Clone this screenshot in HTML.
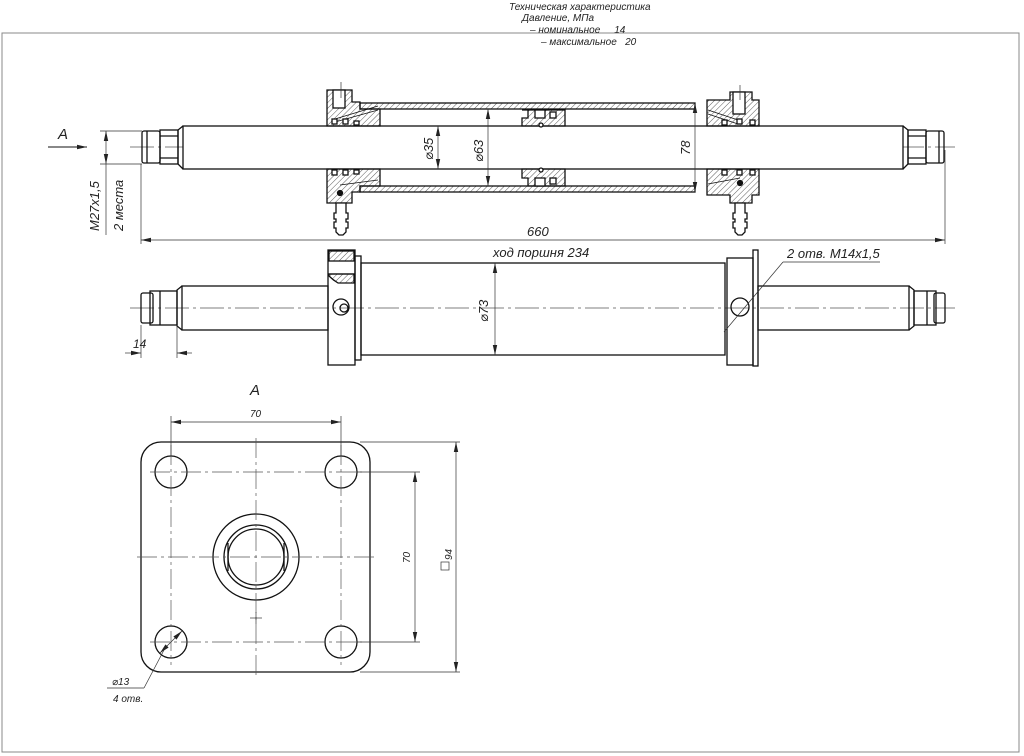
<!DOCTYPE html>
<html><head><meta charset="utf-8"><style>
html,body{margin:0;padding:0;background:#fff;}
svg{display:block;}
text{font-family:"Liberation Sans","DejaVu Sans",sans-serif;font-style:italic;fill:#222;}
</style></head><body>
<svg width="1024" height="756" viewBox="0 0 1024 756" xmlns="http://www.w3.org/2000/svg">
<defs>
<pattern id="h" width="4" height="4" patternUnits="userSpaceOnUse" patternTransform="rotate(45)"><line x1="0" y1="0" x2="0" y2="4" stroke="#333" stroke-width="0.8"/></pattern>
<marker id="a" markerWidth="10" markerHeight="6" refX="10" refY="3" orient="auto-start-reverse" markerUnits="userSpaceOnUse"><path d="M0,0.8 L10,3 L0,5.2z" fill="#222"/></marker>
</defs>
<rect width="1024" height="756" fill="#fff"/>
<!-- frame -->
<rect x="2" y="33" width="1017" height="719" fill="none" stroke="#888" stroke-width="1"/>
<!-- title -->
<g font-size="10">
<text x="509" y="10">Техническая характеристика</text>
<text x="522" y="21">Давление, МПа</text>
<text x="530" y="33">– номинальное&#160;&#160;&#160;&#160;&#160;14</text>
<text x="541" y="45">– максимальное&#160;&#160;&#160;20</text>
</g>

<!-- ========== TOP VIEW (section) ========== -->
<g stroke="#111" fill="none" stroke-width="1.3">
<!-- centerline -->
<line x1="130" y1="147" x2="955" y2="147" stroke="#555" stroke-width="0.7" stroke-dasharray="24,4,3,4"/>
<!-- rod -->
<rect x="183" y="126" width="720" height="43" fill="#fff"/>
<!-- left end -->
<path d="M183,126 L178,130 L178,164 L183,169"/>
<rect x="160" y="130" width="18" height="34"/>
<line x1="160" y1="136" x2="178" y2="136"/><line x1="160" y1="158" x2="178" y2="158"/>
<rect x="142" y="131" width="18" height="32" rx="2"/>
<line x1="147" y1="131" x2="147" y2="163"/>
<!-- right end -->
<path d="M903,126 L908,130 L908,164 L903,169"/>
<rect x="908" y="130" width="18" height="34"/>
<line x1="908" y1="136" x2="926" y2="136"/><line x1="908" y1="158" x2="926" y2="158"/>
<rect x="926" y="131" width="18" height="32" rx="2"/>
<line x1="939" y1="131" x2="939" y2="163"/>
<!-- tube -->
<rect x="360" y="103" width="335" height="6" fill="url(#h)"/>
<rect x="360" y="186" width="335" height="6" fill="url(#h)"/>
<!-- left gland top -->
<path d="M327,90 L352,90 L352,102 L360,102 L360,109 L380,109 L380,126 L327,126 Z" fill="url(#h)"/>
<rect x="333" y="90" width="12" height="18" fill="#fff"/>
<line x1="335" y1="119" x2="378" y2="106" stroke-width="0.8"/>
<line x1="335" y1="122" x2="378" y2="110" stroke-width="0.8"/>
<rect x="332" y="119" width="5" height="5" fill="#fff"/><rect x="343" y="119" width="5" height="5" fill="#fff"/><rect x="354" y="121" width="5" height="4" fill="#fff"/>
<!-- left gland bottom -->
<path d="M327,169 L380,169 L380,186 L360,186 L360,192 L352,192 L352,203 L327,203 Z" fill="url(#h)"/>
<rect x="332" y="170" width="5" height="5" fill="#fff"/><rect x="343" y="170" width="5" height="5" fill="#fff"/><rect x="354" y="170" width="5" height="4" fill="#fff"/>
<line x1="340" y1="185" x2="378" y2="180" stroke-width="0.8"/>
<circle cx="340" cy="193" r="2.5" fill="#111"/>
<!-- left fitting -->
<path d="M336,203 h10 v10 h2 v6 h-2 v3 h2 v6 h-2 v4 l-3,3 h-4 l-3,-3 v-4 h-2 v-6 h2 v-3 h-2 v-6 h2 z" fill="#fff"/>
<!-- right gland top -->
<path d="M707,109 L707,100 L730,100 L730,92 L752,92 L752,100 L759,100 L759,126 L707,126 Z" fill="url(#h)"/>
<rect x="733" y="92" width="12" height="22" fill="#fff"/>
<line x1="708" y1="110" x2="738" y2="120" stroke-width="0.8"/><line x1="708" y1="114" x2="738" y2="124" stroke-width="0.8"/>
<rect x="722" y="120" width="5" height="5" fill="#fff"/><rect x="737" y="119" width="5" height="5" fill="#fff"/><rect x="750" y="120" width="5" height="5" fill="#fff"/>
<!-- right gland bottom -->
<path d="M707,169 L759,169 L759,195 L752,195 L752,203 L730,203 L730,195 L707,195 Z" fill="url(#h)"/>
<rect x="722" y="170" width="5" height="5" fill="#fff"/><rect x="737" y="170" width="5" height="5" fill="#fff"/><rect x="750" y="170" width="5" height="5" fill="#fff"/>
<line x1="708" y1="184" x2="740" y2="178" stroke-width="0.8"/>
<circle cx="740" cy="183" r="2.5" fill="#111"/>
<path d="M735,203 h10 v10 h2 v6 h-2 v3 h2 v6 h-2 v4 l-3,3 h-4 l-3,-3 v-4 h-2 v-6 h2 v-3 h-2 v-6 h2 z" fill="#fff"/>
<!-- piston -->
<path d="M522,110 L565,110 L565,126 L522,126 L522,118 L528,118 L528,110" fill="url(#h)"/>
<rect x="535" y="110" width="10" height="8" fill="#fff"/><rect x="550" y="112" width="6" height="6" fill="#fff"/>
<path d="M522,169 L565,169 L565,186 L528,186 L528,178 L522,178 Z" fill="url(#h)"/>
<rect x="535" y="178" width="10" height="8" fill="#fff"/><rect x="550" y="178" width="6" height="6" fill="#fff"/>
<circle cx="541" cy="125" r="2" fill="#fff"/><circle cx="541" cy="170" r="2" fill="#fff"/>
</g>
<!-- top view dims -->
<g stroke="#333" stroke-width="0.7" fill="none">
<line x1="341" y1="82" x2="341" y2="98"/><line x1="740" y1="85" x2="740" y2="100"/>
<line x1="438" y1="126" x2="438" y2="169" marker-start="url(#a)" marker-end="url(#a)"/>
<line x1="488" y1="109" x2="488" y2="186" marker-start="url(#a)" marker-end="url(#a)"/>
<line x1="695" y1="103" x2="695" y2="192" marker-start="url(#a)" marker-end="url(#a)"/>
<line x1="141" y1="164" x2="141" y2="244"/><line x1="945" y1="150" x2="945" y2="244"/>
<line x1="141" y1="240" x2="945" y2="240" marker-start="url(#a)" marker-end="url(#a)"/>
<line x1="100" y1="131" x2="142" y2="131"/><line x1="100" y1="164" x2="142" y2="164"/>
<line x1="106" y1="131" x2="106" y2="164" marker-start="url(#a)" marker-end="url(#a)"/>
<line x1="106" y1="164" x2="106" y2="235"/>
<line x1="48" y1="147" x2="87" y2="147" stroke="#111" stroke-width="1" marker-end="url(#a)"/>
</g>
<g font-size="13">
<text x="58" y="139" font-style="normal" font-size="15">A</text>
<text transform="translate(99,231) rotate(-90)">M27x1,5</text>
<text transform="translate(123,231) rotate(-90)">2 места</text>
<text transform="translate(433,160) rotate(-90)">⌀35</text>
<text transform="translate(483,162) rotate(-90)">⌀63</text>
<text transform="translate(690,155) rotate(-90)">78</text>
<text x="527" y="236">660</text>
</g>

<!-- ========== MIDDLE VIEW ========== -->
<g stroke="#111" fill="none" stroke-width="1.3">
<line x1="130" y1="308" x2="955" y2="308" stroke="#555" stroke-width="0.7" stroke-dasharray="24,4,3,4"/>
<rect x="182" y="286" width="146" height="44"/>
<rect x="758" y="286" width="151" height="44"/>
<path d="M182,286 L177,290 L177,326 L182,330"/><path d="M909,286 L914,290 L914,326 L909,330"/>
<rect x="150" y="291" width="27" height="34"/><rect x="141" y="293" width="12" height="30" rx="2"/>
<rect x="914" y="291" width="22" height="34"/><rect x="934" y="293" width="11" height="30" rx="2"/>
<line x1="160" y1="291" x2="160" y2="325"/><line x1="927" y1="291" x2="927" y2="325"/>
<rect x="361" y="263" width="364" height="92"/>
<rect x="328" y="250" width="27" height="115"/>
<rect x="355" y="256" width="6" height="104"/>
<rect x="329" y="251" width="25" height="10" fill="url(#h)"/>
<path d="M329,274 L354,274 L354,283 L338,283 Q333,280 329,276Z" fill="url(#h)"/>
<line x1="328" y1="274" x2="355" y2="274"/>
<circle cx="341" cy="307" r="8"/><circle cx="344" cy="308" r="4"/>
<rect x="727" y="258" width="26" height="107"/>
<rect x="753" y="250" width="5" height="116"/>
<circle cx="740" cy="307" r="9"/>
</g>
<g stroke="#333" stroke-width="0.7" fill="none">
<line x1="495" y1="263" x2="495" y2="355" marker-start="url(#a)" marker-end="url(#a)"/>
<line x1="141" y1="325" x2="141" y2="358"/><line x1="177" y1="325" x2="177" y2="358"/>
<line x1="125" y1="353" x2="141" y2="353" marker-end="url(#a)"/>
<line x1="192" y1="353" x2="177" y2="353" marker-end="url(#a)"/>
<line x1="880" y1="262" x2="783" y2="262"/><line x1="783" y1="262" x2="724" y2="332"/>
</g>
<g font-size="13">
<text x="493" y="257">ход поршня 234</text>
<text x="787" y="258">2 отв. M14x1,5</text>
<text transform="translate(488,322) rotate(-90)">⌀73</text>
<text x="133" y="348" font-size="12">14</text>
</g>

<!-- ========== VIEW A ========== -->
<text x="250" y="395" font-style="normal" font-size="15">A</text>
<g stroke="#111" fill="none" stroke-width="1.3">
<rect x="141" y="442" width="229" height="230" rx="20"/>
<circle cx="171" cy="472" r="16"/><circle cx="341" cy="472" r="16"/>
<circle cx="171" cy="642" r="16"/><circle cx="341" cy="642" r="16"/>
<circle cx="256" cy="557" r="43"/><circle cx="256" cy="557" r="32"/><circle cx="256" cy="557" r="28"/>
<line x1="228" y1="543" x2="228" y2="571"/><line x1="284" y1="543" x2="284" y2="571"/>
</g>
<g stroke="#555" stroke-width="0.7" fill="none" stroke-dasharray="20,4,3,4">
<line x1="256" y1="438" x2="256" y2="676"/>
<line x1="137" y1="557" x2="375" y2="557"/>
<line x1="171" y1="445" x2="171" y2="665"/><line x1="341" y1="445" x2="341" y2="665"/>
<line x1="150" y1="472" x2="362" y2="472"/><line x1="150" y1="642" x2="362" y2="642"/>
</g>
<g stroke="#333" stroke-width="0.7" fill="none">
<line x1="250" y1="618" x2="262" y2="618"/><line x1="256" y1="612" x2="256" y2="624"/>
<line x1="171" y1="416" x2="171" y2="456"/><line x1="341" y1="416" x2="341" y2="456"/>
<line x1="171" y1="422" x2="341" y2="422" marker-start="url(#a)" marker-end="url(#a)"/>
<line x1="357" y1="472" x2="420" y2="472"/><line x1="357" y1="642" x2="420" y2="642"/>
<line x1="415" y1="472" x2="415" y2="642" marker-start="url(#a)" marker-end="url(#a)"/>
<line x1="360" y1="442" x2="460" y2="442"/><line x1="360" y1="672" x2="460" y2="672"/>
<line x1="456" y1="442" x2="456" y2="672" marker-start="url(#a)" marker-end="url(#a)"/>
<line x1="160" y1="653" x2="182" y2="631" marker-start="url(#a)" marker-end="url(#a)"/>
<line x1="164" y1="650" x2="144" y2="688"/><line x1="144" y1="688" x2="107" y2="688"/>
<rect x="441" y="562" width="8" height="8"/>
</g>
<g font-size="10">
<text x="250" y="417">70</text>
<text transform="translate(410,563) rotate(-90)">70</text>
<text transform="translate(452,560) rotate(-90)">94</text>
<text x="112" y="685">⌀13</text>
<text x="113" y="702">4 отв.</text>
</g>
</svg>
</body></html>
